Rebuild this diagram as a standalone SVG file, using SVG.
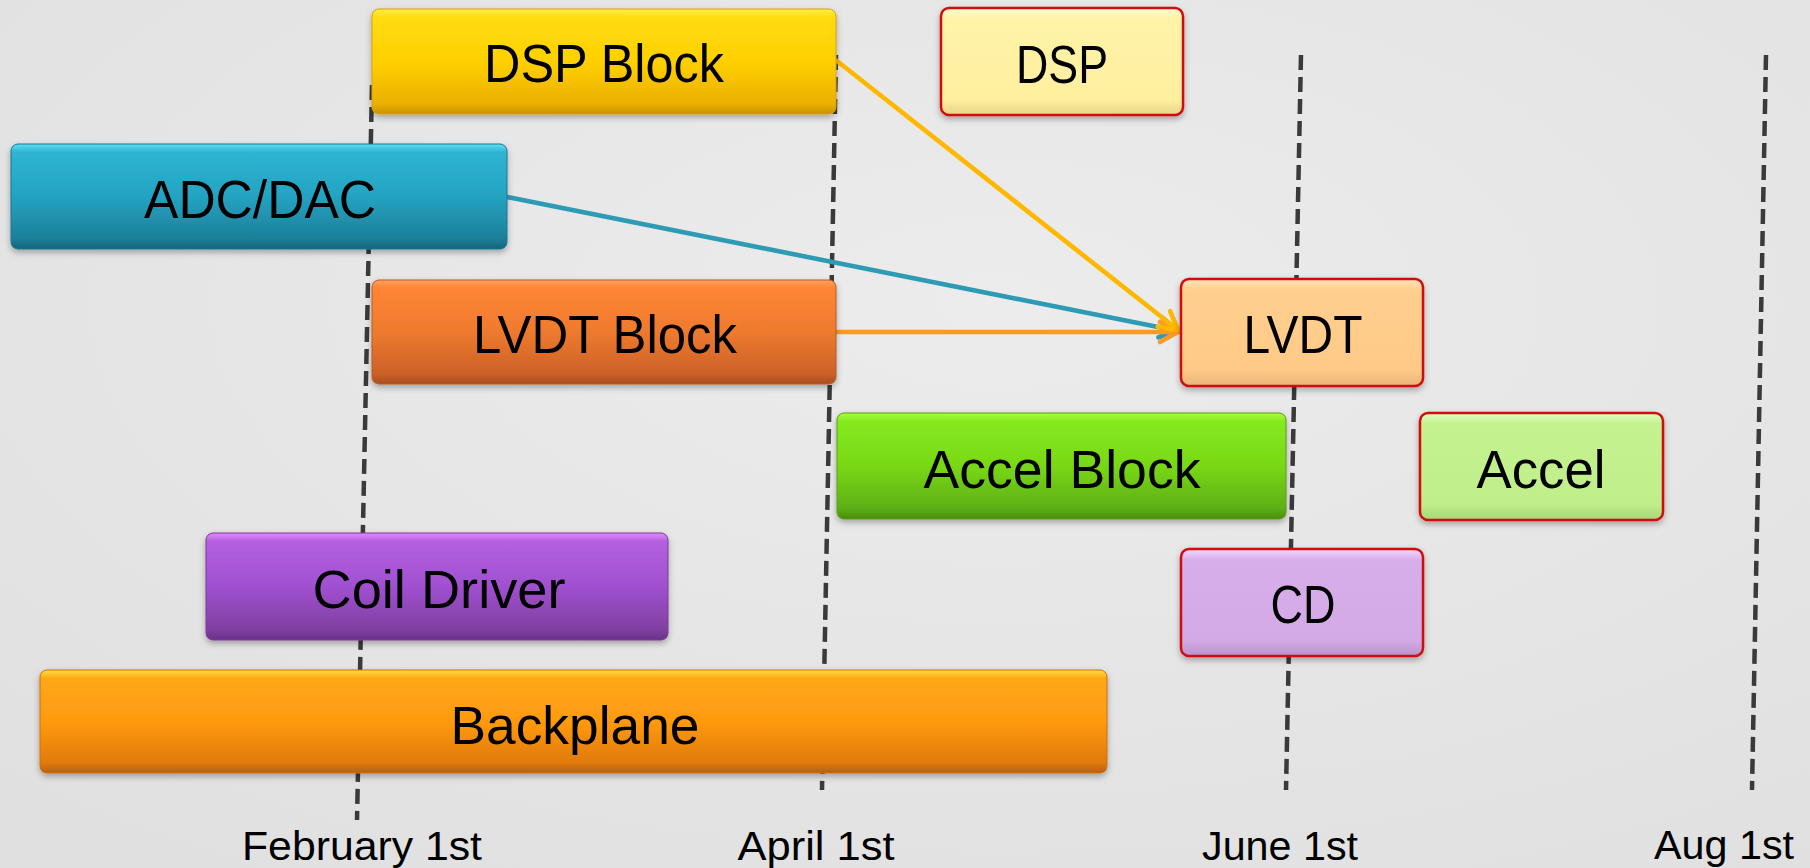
<svg xmlns="http://www.w3.org/2000/svg" width="1810" height="868" viewBox="0 0 1810 868">
<defs>
<style>
.lbl{font-family:"Liberation Sans",Arial,sans-serif;font-size:54px;fill:#000;text-anchor:middle}
.date{font-family:"Liberation Sans",Arial,sans-serif;font-size:40px;fill:#000;text-anchor:middle}
.grid{stroke:#3a3a3a;stroke-width:4.5;stroke-dasharray:15 7;fill:none}
.gel{filter:url(#sh)}
.red{stroke:#d01010;stroke-width:2.5;filter:url(#sh)}
.con{fill:none;stroke-width:4.6;stroke-linecap:round}
</style>
<filter id="sh" x="-5%" y="-10%" width="110%" height="130%">
<feDropShadow dx="0" dy="3" stdDeviation="3" flood-color="#000" flood-opacity="0.3"/>
</filter>
<radialGradient id="bg" cx="0.55" cy="0.35" r="0.8">
<stop offset="0" stop-color="#ececec"/>
<stop offset="1" stop-color="#e0e0e0"/>
</radialGradient>
<linearGradient id="gGold" x1="0" y1="0" x2="0" y2="1">
<stop offset="0" stop-color="#fff04a"/><stop offset="0.08" stop-color="#ffdc10"/><stop offset="0.5" stop-color="#ffd000"/><stop offset="0.9" stop-color="#ebb000"/><stop offset="1" stop-color="#c89200"/>
</linearGradient>
<linearGradient id="gTeal" x1="0" y1="0" x2="0" y2="1">
<stop offset="0" stop-color="#5be0f5"/><stop offset="0.08" stop-color="#2eb4d2"/><stop offset="0.5" stop-color="#24a3c2"/><stop offset="0.9" stop-color="#1d7f99"/><stop offset="1" stop-color="#15627a"/>
</linearGradient>
<linearGradient id="gOrg" x1="0" y1="0" x2="0" y2="1">
<stop offset="0" stop-color="#ffa060"/><stop offset="0.08" stop-color="#ff8535"/><stop offset="0.5" stop-color="#ee7a2e"/><stop offset="0.9" stop-color="#cc6128"/><stop offset="1" stop-color="#a84e20"/>
</linearGradient>
<linearGradient id="gGreen" x1="0" y1="0" x2="0" y2="1">
<stop offset="0" stop-color="#a8ff40"/><stop offset="0.08" stop-color="#86ea1c"/><stop offset="0.5" stop-color="#78d818"/><stop offset="0.9" stop-color="#5eaf14"/><stop offset="1" stop-color="#4a8c0e"/>
</linearGradient>
<linearGradient id="gPurp" x1="0" y1="0" x2="0" y2="1">
<stop offset="0" stop-color="#e08aff"/><stop offset="0.08" stop-color="#b460e0"/><stop offset="0.5" stop-color="#a050d0"/><stop offset="0.9" stop-color="#8040a0"/><stop offset="1" stop-color="#6a3088"/>
</linearGradient>
<linearGradient id="gBack" x1="0" y1="0" x2="0" y2="1">
<stop offset="0" stop-color="#ffe040"/><stop offset="0.08" stop-color="#ffa818"/><stop offset="0.5" stop-color="#ff9a10"/><stop offset="0.9" stop-color="#e07a08"/><stop offset="1" stop-color="#b86008"/>
</linearGradient>
<linearGradient id="lDsp" x1="0" y1="0" x2="0" y2="1">
<stop offset="0" stop-color="#fffbd0"/><stop offset="0.1" stop-color="#fff3a8"/><stop offset="0.85" stop-color="#fff0a0"/><stop offset="1" stop-color="#e8d488"/>
</linearGradient>
<linearGradient id="lLvdt" x1="0" y1="0" x2="0" y2="1">
<stop offset="0" stop-color="#ffe4bc"/><stop offset="0.1" stop-color="#ffcf8e"/><stop offset="0.85" stop-color="#ffca88"/><stop offset="1" stop-color="#e8b478"/>
</linearGradient>
<linearGradient id="lAcc" x1="0" y1="0" x2="0" y2="1">
<stop offset="0" stop-color="#e0ffc0"/><stop offset="0.1" stop-color="#c4f290"/><stop offset="0.85" stop-color="#c0ee8a"/><stop offset="1" stop-color="#a6d676"/>
</linearGradient>
<linearGradient id="lCd" x1="0" y1="0" x2="0" y2="1">
<stop offset="0" stop-color="#f6d8ff"/><stop offset="0.1" stop-color="#d8aeea"/><stop offset="0.85" stop-color="#d4aae6"/><stop offset="1" stop-color="#b894cc"/>
</linearGradient>
<marker id="aY" viewBox="-3 -3 26 26" refX="20" refY="10" markerWidth="26" markerHeight="26" markerUnits="userSpaceOnUse" orient="auto">
<path d="M2 0 L20 10 L2 20" fill="none" stroke="#ffb800" stroke-width="4.6" stroke-linecap="round" stroke-linejoin="round"/>
</marker>
<marker id="aT" viewBox="-3 -3 26 26" refX="20" refY="10" markerWidth="26" markerHeight="26" markerUnits="userSpaceOnUse" orient="auto">
<path d="M2 0 L20 10 L2 20" fill="none" stroke="#2e9bb5" stroke-width="4.6" stroke-linecap="round" stroke-linejoin="round"/>
</marker>
<marker id="aO" viewBox="-3 -3 26 26" refX="20" refY="10" markerWidth="26" markerHeight="26" markerUnits="userSpaceOnUse" orient="auto">
<path d="M2 0 L20 10 L2 20" fill="none" stroke="#ff9a22" stroke-width="4.6" stroke-linecap="round" stroke-linejoin="round"/>
</marker>
</defs>

<rect x="0" y="0" width="1810" height="868" fill="url(#bg)"/>

<g id="timeline">
<line class="grid" x1="372" y1="85" x2="357" y2="820"/>
<line class="grid" x1="836" y1="55" x2="822" y2="790"/>
<line class="grid" x1="1301" y1="55" x2="1286" y2="790"/>
<line class="grid" x1="1766" y1="55" x2="1752" y2="790"/>
<text class="date" x="362" y="860" textLength="240" lengthAdjust="spacingAndGlyphs">February 1st</text>
<text class="date" x="816" y="860" textLength="157" lengthAdjust="spacingAndGlyphs">April 1st</text>
<text class="date" x="1280" y="860" textLength="156" lengthAdjust="spacingAndGlyphs">June 1st</text>
<text class="date" x="1724" y="859" textLength="140" lengthAdjust="spacingAndGlyphs">Aug 1st</text>
</g>

<g id="connectors">
<line class="con" x1="507" y1="197" x2="1178" y2="331" stroke="#2e9bb5" marker-end="url(#aT)"/>
<line class="con" x1="836" y1="332" x2="1178" y2="332" stroke="#ff9a22" marker-end="url(#aO)"/>
<line class="con" x1="837" y1="61" x2="1178" y2="330" stroke="#ffb800" marker-end="url(#aY)"/>
</g>

<g id="node-dsp-block">
<rect class="gel" x="372" y="9" width="464" height="105" rx="7" fill="url(#gGold)" stroke="#d9a000" stroke-width="1"/>
<text class="lbl" x="604" y="82" textLength="240" lengthAdjust="spacingAndGlyphs">DSP Block</text>
</g>
<g id="node-adc-dac">
<rect class="gel" x="11" y="144" width="496" height="105" rx="7" fill="url(#gTeal)" stroke="#1a7890" stroke-width="1"/>
<text class="lbl" x="260" y="218" textLength="232" lengthAdjust="spacingAndGlyphs">ADC/DAC</text>
</g>
<g id="node-lvdt-block">
<rect class="gel" x="372" y="280" width="464" height="104" rx="7" fill="url(#gOrg)" stroke="#b85a24" stroke-width="1"/>
<text class="lbl" x="605" y="353" textLength="264" lengthAdjust="spacingAndGlyphs">LVDT Block</text>
</g>
<g id="node-dsp">
<rect class="red" x="941" y="8" width="242" height="107" rx="8" fill="url(#lDsp)"/>
<text class="lbl" x="1062" y="83" textLength="92" lengthAdjust="spacingAndGlyphs">DSP</text>
</g>
<g id="node-lvdt">
<rect class="red" x="1181" y="279" width="242" height="107" rx="8" fill="url(#lLvdt)"/>
<text class="lbl" x="1303" y="353" textLength="119" lengthAdjust="spacingAndGlyphs">LVDT</text>
</g>
<g id="node-accel-block">
<rect class="gel" x="837" y="413" width="449" height="106" rx="7" fill="url(#gGreen)" stroke="#5a9c12" stroke-width="1"/>
<text class="lbl" x="1062" y="488" textLength="277" lengthAdjust="spacingAndGlyphs">Accel Block</text>
</g>
<g id="node-accel">
<rect class="red" x="1420" y="413" width="243" height="107" rx="8" fill="url(#lAcc)"/>
<text class="lbl" x="1541" y="488" textLength="129" lengthAdjust="spacingAndGlyphs">Accel</text>
</g>
<g id="node-cd">
<rect class="red" x="1181" y="549" width="242" height="107" rx="8" fill="url(#lCd)"/>
<text class="lbl" x="1303" y="623" textLength="65" lengthAdjust="spacingAndGlyphs">CD</text>
</g>
<g id="node-coil-driver">
<rect class="gel" x="206" y="533" width="462" height="107" rx="7" fill="url(#gPurp)" stroke="#7a3a98" stroke-width="1"/>
<text class="lbl" x="439" y="608" textLength="253" lengthAdjust="spacingAndGlyphs">Coil Driver</text>
</g>
<g id="node-backplane">
<rect class="gel" x="40" y="670" width="1067" height="103" rx="7" fill="url(#gBack)" stroke="#d07008" stroke-width="1"/>
<text class="lbl" x="575" y="744" textLength="249" lengthAdjust="spacingAndGlyphs">Backplane</text>
</g>
</svg>
